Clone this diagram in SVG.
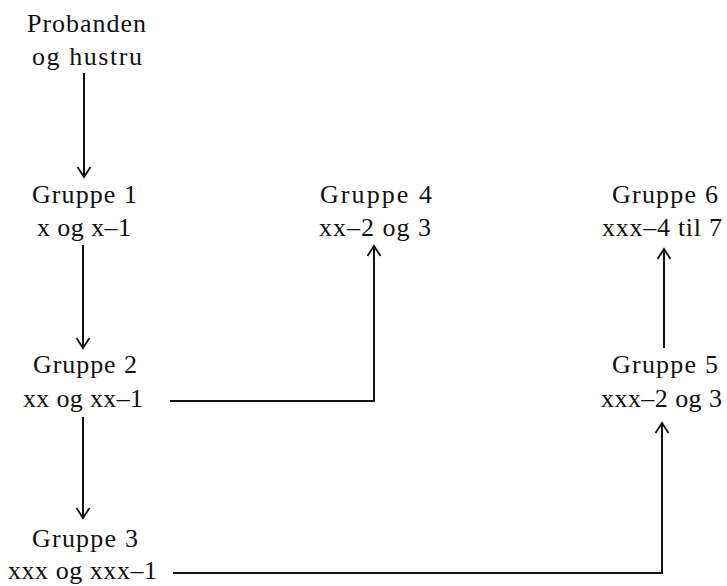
<svg xmlns="http://www.w3.org/2000/svg" width="727" height="586" viewBox="0 0 727 586">
<defs>
<style>
text { font-family: "Liberation Serif", "Times New Roman", serif; font-size: 26px; fill: #111; }
.c { fill: none; stroke: #111; stroke-width: 2; }
</style>
<marker id="ah" markerUnits="userSpaceOnUse" markerWidth="14" markerHeight="16" viewBox="-1 -8 12 16" refX="10" refY="0" orient="auto">
<path d="M0,-6.5 L10,0 L0,6.5" fill="none" stroke="#111" stroke-width="1.8"/>
</marker>
</defs>
<rect width="727" height="586" fill="#fff"/>
<g id="proband">
<text x="27" y="32" textLength="119" lengthAdjust="spacing">Probanden</text>
<text x="32" y="65" textLength="110" lengthAdjust="spacing">og  hustru</text>
</g>
<g id="gruppe1">
<text x="32" y="203" textLength="105" lengthAdjust="spacing">Gruppe 1</text>
<text x="37" y="236" textLength="94" lengthAdjust="spacing">x og x–1</text>
</g>
<g id="gruppe2">
<text x="33" y="373" textLength="104" lengthAdjust="spacing">Gruppe 2</text>
<text x="23" y="407" textLength="120" lengthAdjust="spacing">xx og xx–1</text>
</g>
<g id="gruppe3">
<text x="32" y="547" textLength="106" lengthAdjust="spacing">Gruppe 3</text>
<text x="8" y="579" textLength="149" lengthAdjust="spacing">xxx og xxx–1</text>
</g>
<g id="gruppe4">
<text x="320" y="203" textLength="112" lengthAdjust="spacing">Gruppe 4</text>
<text x="319" y="236" textLength="112" lengthAdjust="spacing">xx–2 og 3</text>
</g>
<g id="gruppe5">
<text x="612" y="373" textLength="106" lengthAdjust="spacing">Gruppe 5</text>
<text x="601" y="407" textLength="121" lengthAdjust="spacing">xxx–2 og 3</text>
</g>
<g id="gruppe6">
<text x="612" y="203" textLength="106" lengthAdjust="spacing">Gruppe 6</text>
<text x="602" y="236" textLength="120" lengthAdjust="spacing">xxx–4 til 7</text>
</g>
<g id="connectors">
<path class="c" d="M84 73 V177" marker-end="url(#ah)"/>
<path class="c" d="M83 245 V348" marker-end="url(#ah)"/>
<path class="c" d="M83 417 V518" marker-end="url(#ah)"/>
<path class="c" d="M170 401 H374 V246" marker-end="url(#ah)"/>
<path class="c" d="M173 573 H662 V423" marker-end="url(#ah)"/>
<path class="c" d="M664 348 V249" marker-end="url(#ah)"/>
</g>
</svg>
